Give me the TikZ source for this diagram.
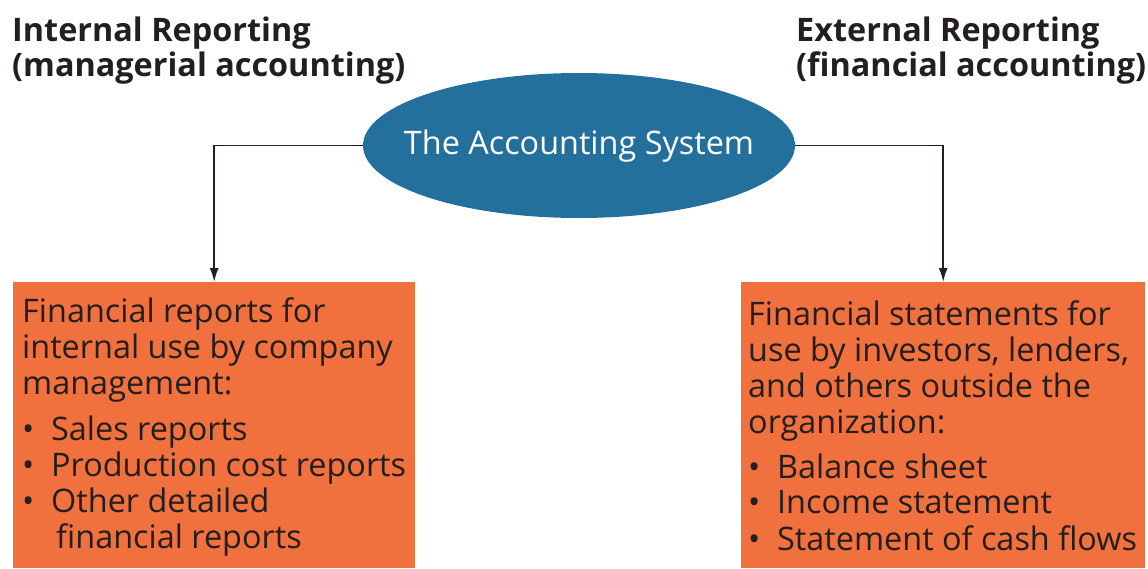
\documentclass[tikz,border=0pt]{standalone}
\usepackage{fontspec}
\setmainfont{Open Sans}
\usetikzlibrary{shapes.geometric,arrows.meta}
\definecolor{sysblue}{HTML}{24709D}
\definecolor{boxorange}{HTML}{F0703E}
\definecolor{inktext}{HTML}{231F20}
\newcommand{\bul}[1]{\makebox[#1][l]{•}}
\tikzset{
  heading/.style={font=\bfseries\fontsize{32.4}{35}\selectfont, text=inktext, align=left, inner sep=0pt, anchor=north west},
  body/.style={font=\fontsize{32.4}{36}\selectfont, text=inktext, align=left, inner sep=0pt, anchor=north west},
  outbox/.style={fill=boxorange, draw=none, minimum width=402pt, minimum height=286pt, anchor=north west, inner sep=0pt},
  system/.style={ellipse, fill=sysblue, draw=none, minimum width=432pt, minimum height=145pt, inner sep=0pt, text=white, text height=25pt, text depth=8pt, font=\fontsize{32.4}{36}\selectfont},
  connector/.style={line width=1.8pt, draw=inktext, -{Latex[length=14pt,width=9pt]}}
}
\begin{document}
\begin{tikzpicture}[x=1pt,y=-1pt]
\useasboundingbox (0,0) rectangle (1148,568);
\node[heading] (hl) at (12,17) {Internal Reporting\\(managerial accounting)};
\node[heading] (hr) at (796,17) {External Reporting\\(financial accounting)};
\node[system] (sys) at (579,145.5) {\makebox[0pt]{The Accounting System}};
\node[outbox] (lbox) at (13,282) {};
\node[outbox, minimum width=404pt] (rbox) at (741,282) {};
\node[body] (ltext) at (22,298) {Financial reports for\\internal use by company\\management:\\[10pt]
\bul{29pt}Sales reports\\
\bul{29pt}Production cost reports\\
\bul{29pt}Other detailed\\
\hspace{34pt}financial reports};
\node[body] (rtext) at (748,300) {Financial statements for\\use by investors, lenders,\\and others outside the\\organization:\\[9pt]
\bul{29pt}Balance sheet\\
\bul{29pt}Income statement\\
\bul{29pt}Statement of cash flows};
\draw[connector] (sys.west) -| (lbox.north);
\draw[connector] (sys.east) -| (rbox.north);
\end{tikzpicture}
\end{document}
